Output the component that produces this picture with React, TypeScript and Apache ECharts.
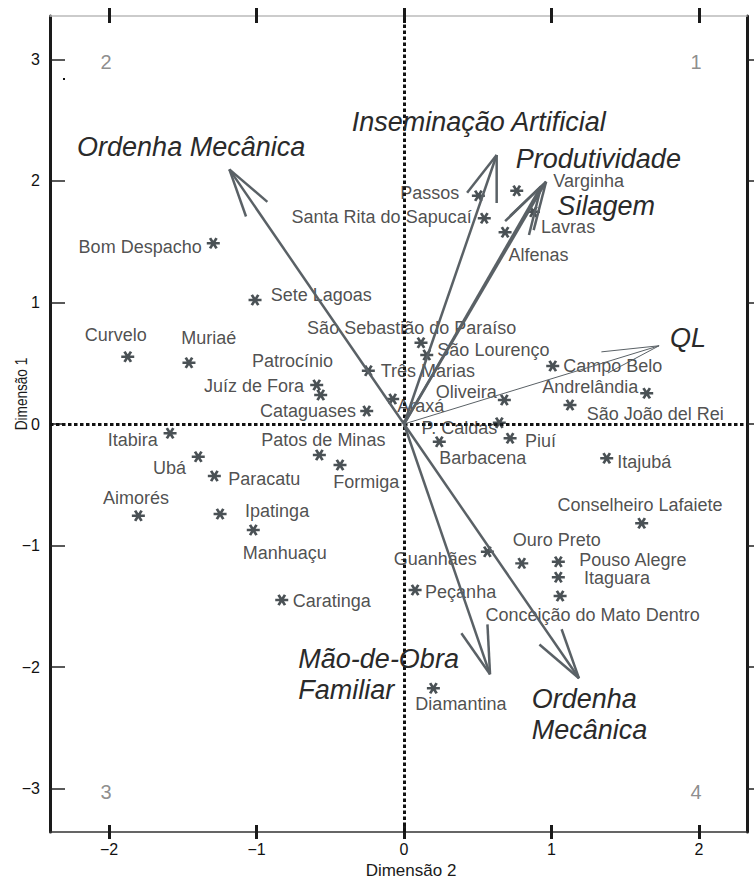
import React, { useEffect, useRef } from "react";
import * as echarts from "echarts";

// ---------- data ----------
const municipalities = [
  "Bom Despacho", "Sete Lagoas", "Curvelo", "Muriaé", "Patrocínio", "Juíz de Fora",
  "Cataguases", "Três Marias", "Araxá", "São Sebastião do Paraíso", "São Lourenço",
  "Campo Belo", "Andrelândia", "São João del Rei", "Oliveira", "P. Caldas", "Barbacena",
  "Piuí", "Itajubá", "Conselheiro Lafaiete", "Ouro Preto", "Guanhães", "Pouso Alegre",
  "Itaguara", "Conceição do Mato Dentro", "Peçanha", "Diamantina", "Caratinga", "Itabira",
  "Ubá", "Paracatu", "Aimorés", "Ipatinga", "Manhuaçu", "Patos de Minas", "Formiga",
  "Passos", "Varginha", "Santa Rita do Sapucaí", "Lavras", "Alfenas",
];
const dim2 = [
  -1.293, -1.01, -1.873, -1.458, -0.592, -0.565,
  -0.253, -0.242, -0.077, 0.115, 0.154,
  1.008, 1.645, 1.125, 0.68, 0.646, 0.239,
  0.719, 1.374, 1.611, 0.798, 0.565, 1.046,
  1.046, 1.058, 0.075, 0.199, -0.829, -1.586,
  -1.395, -1.286, -1.801, -1.247, -1.022, -0.574, -0.434,
  0.504, 0.764, 0.544, 0.877, 0.685,
];
const dim1 = [
  1.487, 1.021, 0.554, 0.505, 0.321, 0.239,
  0.107, 0.439, 0.206, 0.669, 0.568,
  0.477, 0.253, 0.156, 0.198, 0.011, -0.146,
  -0.118, -0.282, -0.817, -1.147, -1.051, -1.133,
  -1.262, -1.416, -1.366, -2.175, -1.449, -0.077,
  -0.269, -0.428, -0.755, -0.741, -0.872, -0.255, -0.337,
  1.879, 1.92, 1.693, 1.747, 1.578,
];

const vectorNames = [
  "Ordenha Mecânica", "Inseminação Artificial", "Produtividade", "Silagem",
  "QL", "Mão-de-Obra\nFamiliar", "Ordenha\nMecânica",
];
const vectorDim2 = [-1.184, 0.628, 0.963, 0.929, 1.729, 0.583, 1.186];
const vectorDim1 = [2.096, 2.214, 1.994, 1.955, 0.644, -2.06, -2.093];

const xTicks = [-2, -1, 0, 1, 2];
const yTicks = [-3, -2, -1, 0, 1, 2, 3];

const quadrantLabels = ["1", "2", "3", "4"];
const quadrantDim2 = [2, -2, -2, 2];
const quadrantDim1 = [3, 3, -3, -3];

const xTitle = "Dimensão 2";
const yTitle = "Dimensão 1";

// ---------- styles / placements ----------
const FONT = "'Liberation Sans', Arial, Helvetica, sans-serif";
const X_MIN = -2.4;
const X_MAX = 2.325;
const Y_MIN = -3.358;
const Y_MAX = 3.358;

const labelPlacement: Record<string, [string, number, number]> = {
  "Bom Despacho": ["right", -11.6, 4],
  "Sete Lagoas": ["left", 15.7, -5],
  "Curvelo": ["center", -12, -21.7],
  "Muriaé": ["center", 19.8, -24.4],
  "Patrocínio": ["center", -24.2, -24.3],
  "Juíz de Fora": ["right", -16.7, -9],
  "Cataguases": ["right", -10.7, 0],
  "Três Marias": ["left", 12.4, 0],
  "Araxá": ["left", 4.6, 7],
  "São Sebastião do Paraíso": ["center", -9.3, -15.2],
  "São Lourenço": ["left", 10.6, -5],
  "Campo Belo": ["left", 10.6, 0],
  "Andrelândia": ["right", -8.4, -6.3],
  "São João del Rei": ["left", 16.7, 9],
  "Oliveira": ["right", -7.6, -8],
  "P. Caldas": ["right", -2, 5.6],
  "Barbacena": ["left", 0, 16.3],
  "Piuí": ["left", 15, 2.7],
  "Itajubá": ["left", 10.6, 4.2],
  "Conselheiro Lafaiete": ["center", -1.7, -18.3],
  "Ouro Preto": ["left", -9, -23],
  "Guanhães": ["right", -10.6, 7],
  "Pouso Alegre": ["left", 21, -2],
  "Itaguara": ["left", 25.7, 0.7],
  "Conceição do Mato Dentro": ["center", 32.5, 18.5],
  "Peçanha": ["left", 10, 2.5],
  "Diamantina": ["center", 27.5, 15.7],
  "Caratinga": ["left", 11, 1],
  "Itabira": ["right", -12.3, 6.2],
  "Ubá": ["right", -12.3, 11.3],
  "Paracatu": ["left", 14, 3],
  "Aimorés": ["center", -2.3, -17.7],
  "Ipatinga": ["left", 25, -3.3],
  "Manhuaçu": ["center", 31.4, 23],
  "Patos de Minas": ["center", 4, -15.3],
  "Formiga": ["left", -6.7, 16.7],
  "Passos": ["right", -19, -3],
  "Varginha": ["left", 36.6, -9.7],
  "Santa Rita do Sapucaí": ["right", -12.6, -1],
  "Lavras": ["left", 7.7, 15],
  "Alfenas": ["left", 3.3, 22.7],
};

// [dx, dy] of the label's left/middle anchor relative to the arrow tip
const arrowLabelOffset: [number, number][] = [
  [-152.3, -22.6],
  [-145, -32.5],
  [-30.3, -22.7],
  [16.3, 19.3],
  [11, -7.4],
  [-191.7, 0.3],
  [-47.3, 36.6],
];
// [head length px, half angle deg, line width]
const arrowHead: [number, number, number][] = [
  [50, 15, 2.5],
  [48, 19, 2.5],
  [50, 16, 2.5],
  [50, 16, 2.5],
  [58, 11, 1],
  [50, 16, 2.5],
  [52, 15, 2.5],
];

// asterisk symbol (three crossing bars)
const ASTERISK =
  "path://M-6,-1.25L6,-1.25L6,1.25L-6,1.25Z" +
  "M-1.917,-5.821L4.083,4.571L1.917,5.821L-4.083,-4.571Z" +
  "M4.083,-4.571L-1.917,5.821L-4.083,4.571L1.917,-5.821Z";

const fmt = (v: number) => (v < 0 ? "\u2212" + Math.abs(v) : String(v));

export default function App() {
  const ref = useRef<HTMLDivElement>(null);

  useEffect(() => {
    if (!ref.current) return;
    const chart = echarts.init(ref.current, undefined, { renderer: "svg" });

    const pointData = municipalities.map((name, i) => {
      const p = labelPlacement[name] || ["left", 10, 0];
      return {
        name,
        value: [dim2[i], dim1[i]],
        label: {
          show: true,
          position: "inside",
          align: p[0],
          verticalAlign: "middle",
          offset: [p[1], p[2]],
          formatter: name,
        },
      };
    });

    const quadData = quadrantLabels.map((q, i) => ({
      name: q,
      value: [quadrantDim2[i], quadrantDim1[i]],
    }));

    const baseX = {
      type: "value",
      min: X_MIN,
      max: X_MAX,
      splitLine: { show: false },
    };
    const baseY = {
      type: "value",
      min: Y_MIN,
      max: Y_MAX,
      splitLine: { show: false },
    };

    const option: any = {
      animation: false,
      backgroundColor: "#ffffff",
      grid: { left: 50, right: 7, top: 16, bottom: 53, containLabel: false },
      xAxis: [
        {
          ...baseX,
          position: "bottom",
          axisLine: { show: true, onZero: false, lineStyle: { color: "#333", width: 1.5 } },
          axisTick: { show: true, inside: false, length: 7, customValues: xTicks, lineStyle: { color: "#1a1a1a", width: 3 } },
          axisLabel: { show: true, customValues: xTicks, formatter: fmt, margin: 9, fontSize: 16, color: "#111", fontFamily: FONT },
        },
        {
          ...baseX,
          position: "bottom",
          axisLine: { show: false, onZero: false },
          axisTick: { show: true, inside: true, length: 7, customValues: xTicks, lineStyle: { color: "#1a1a1a", width: 3 } },
          axisLabel: { show: false },
        },
        {
          ...baseX,
          position: "top",
          axisLine: { show: true, onZero: false, lineStyle: { color: "#bbb", width: 1.5 } },
          axisTick: { show: true, inside: false, length: 8, customValues: xTicks, lineStyle: { color: "#1a1a1a", width: 3 } },
          axisLabel: { show: false },
        },
        {
          ...baseX,
          position: "top",
          axisLine: { show: false, onZero: false },
          axisTick: { show: true, inside: true, length: 7, customValues: xTicks, lineStyle: { color: "#1a1a1a", width: 3 } },
          axisLabel: { show: false },
        },
      ],
      yAxis: [
        {
          ...baseY,
          position: "left",
          axisLine: { show: true, onZero: false, lineStyle: { color: "#1a1a1a", width: 3 } },
          axisTick: { show: true, inside: true, length: 15, customValues: yTicks, lineStyle: { color: "#222", width: 1.5 } },
          axisLabel: { show: true, customValues: yTicks, formatter: fmt, margin: 10, fontSize: 16, color: "#111", fontFamily: FONT },
        },
        {
          ...baseY,
          position: "right",
          axisLine: { show: true, onZero: false, lineStyle: { color: "#1a1a1a", width: 3 } },
          axisTick: { show: true, inside: false, length: 7, customValues: yTicks, lineStyle: { color: "#222", width: 1.5 } },
          axisLabel: { show: false },
        },
      ],
      graphic: [
        {
          type: "text",
          x: 411,
          y: 870,
          style: { text: xTitle, fontSize: 17, fontFamily: FONT, fill: "#1a1a1a", align: "center", verticalAlign: "middle" },
        },
        {
          type: "text",
          x: 21,
          y: 394,
          rotation: Math.PI / 2,
          scaleX: 0.8,
          style: { text: yTitle, fontSize: 17, fontFamily: FONT, fill: "#1a1a1a", align: "center", verticalAlign: "middle" },
        },
        { type: "rect", shape: { x: 63, y: 78, width: 2, height: 2 }, style: { fill: "#111" } },
      ],
      series: [
        {
          type: "scatter",
          xAxisIndex: 0,
          yAxisIndex: 0,
          symbol: ASTERISK,
          symbolSize: [13, 11.5],
          itemStyle: { color: "#1d262b" },
          label: { fontSize: 18, fontFamily: FONT, color: "#222" },
          data: pointData,
          z: 3,
          markLine: {
            silent: true,
            symbol: ["none", "none"],
            label: { show: false },
            lineStyle: { color: "#111", width: 3, type: [3.5, 2.5] },
            data: [{ xAxis: 0 }, { yAxis: 0 }],
            z: 2,
          },
        },
        {
          type: "scatter",
          xAxisIndex: 0,
          yAxisIndex: 0,
          symbolSize: 0,
          data: quadData,
          label: {
            show: true,
            position: "inside",
            offset: [-3, 3],
            formatter: (p: any) => p.name,
            fontSize: 20,
            fontFamily: FONT,
            color: "#707070",
          },
          z: 2,
        },
        {
          type: "custom",
          xAxisIndex: 0,
          yAxisIndex: 0,
          z: 5,
          data: vectorDim2.map((x, i) => [x, vectorDim1[i]]),
          renderItem: (params: any, api: any) => {
            const i = params.dataIndex;
            const tip = api.coord([api.value(0), api.value(1)]);
            const o = api.coord([0, 0]);
            const [hl, ha, lw] = arrowHead[i];
            const dx = o[0] - tip[0];
            const dy = o[1] - tip[1];
            const len = Math.hypot(dx, dy) || 1;
            const ux = dx / len;
            const uy = dy / len;
            const a = (ha * Math.PI) / 180;
            const rot = (ang: number) => [
              ux * Math.cos(ang) - uy * Math.sin(ang),
              ux * Math.sin(ang) + uy * Math.cos(ang),
            ];
            const b1 = rot(a);
            const b2 = rot(-a);
            const ls = { stroke: "#5a6166", lineWidth: lw, fill: null };
            const off = arrowLabelOffset[i];
            return {
              type: "group",
              children: [
                { type: "line", shape: { x1: o[0], y1: o[1], x2: tip[0], y2: tip[1] }, style: ls },
                { type: "line", shape: { x1: tip[0], y1: tip[1], x2: tip[0] + hl * b1[0], y2: tip[1] + hl * b1[1] }, style: ls },
                { type: "line", shape: { x1: tip[0], y1: tip[1], x2: tip[0] + hl * b2[0], y2: tip[1] + hl * b2[1] }, style: ls },
                {
                  type: "text",
                  x: tip[0] + off[0],
                  y: tip[1] + off[1],
                  style: {
                    text: vectorNames[i],
                    fill: "#2a2a2a",
                    fontSize: 27,
                    fontStyle: "italic",
                    fontFamily: FONT,
                    align: "left",
                    verticalAlign: "middle",
                    lineHeight: 31,
                  },
                },
              ],
            };
          },
        },
      ],
    };

    chart.setOption(option);
    return () => chart.dispose();
  }, []);

  return (
    <div
      ref={ref}
      style={{ position: "fixed", left: 0, top: 0, width: 754, height: 885, background: "#fff" }}
    />
  );
}
